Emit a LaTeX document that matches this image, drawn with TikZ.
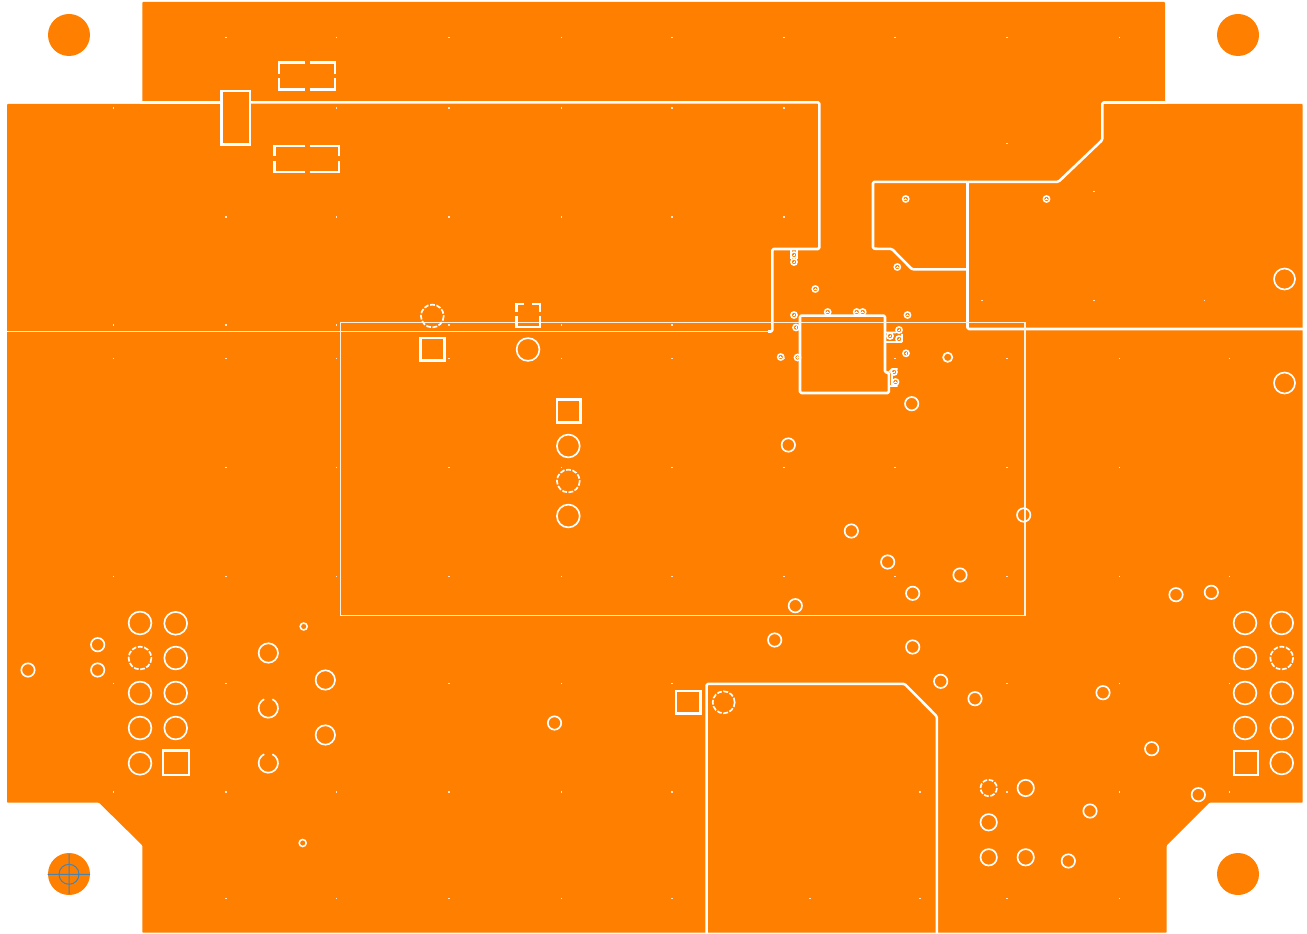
\documentclass[tikz,border=0pt]{standalone}
\definecolor{copper}{HTML}{FF8000}
\definecolor{target}{HTML}{4A82B0}
\tikzset{
  plane/.style={fill=copper,draw=none,rounded corners=0.6pt},
  trace/.style={draw=white,line width=1.9pt,line join=round,rounded corners=1pt},
  hairline/.style={draw=white!88!copper,line width=1.15pt},
  pad/.style={draw=white,line width=1.7pt},
  ring/.style={draw=white,line width=1.25pt},
  brokenring/.style={ring,dash pattern=on 3.6pt off 1.2pt},
  viaring/.style={draw=white,line width=1.15pt},
  viacross/.style={draw=white,line width=0.45pt},
  dot/.style={fill=white!80!copper,draw=none},
  targetline/.style={draw=target,line width=0.75pt}
}
\newcommand{\griddot}[2]{\path[dot] (#1-0.7,#2-0.7) rectangle (#1+0.7,#2+0.7);}
\begin{document}
\begin{tikzpicture}[x=0.75pt,y=-0.75pt]
\useasboundingbox (0,0) rectangle (1307,934);
% copper outline
\path[plane] (142.3,2) -- (1165,2) -- (1165,104) -- (1302.7,104) -- (1302.7,802.7) -- (1209.3,802.7)
  -- (1166.7,845.3) -- (1166.7,932.7) -- (142.3,932.7) -- (142.3,845.3) -- (99,802.7) -- (7,802.7)
  -- (7,104) -- (142.3,104) -- cycle;
% mounting holes
\foreach \cx/\cy in {69/35,1238/35,69/874,1238/874}
  \path[fill=copper] (\cx,\cy) circle[radius=21];
\draw[targetline] (47.5,874.3) -- (90,874.3) (69,854) -- (69,894) (69,874.3) circle[radius=10];
% plane splits
\draw[trace] (140,102.3) -- (221,102.3);
\draw[trace] (250,102.3) -- (819.3,102.3) -- (819.3,249) -- (772.3,249) -- (772.3,331.5) -- (768,331.5);
\draw[hairline] (7,331.7) -- (770,331.7);
\draw[trace] (1167,102.5) -- (1102.3,102.5) -- (1102.3,140) -- (1058.5,181.8) -- (967.5,181.8) -- (967.5,329) -- (1303,329);
\draw[trace] (967.5,181.8) -- (873,181.8) -- (873,248.7) -- (892,249) -- (912,269.3) -- (967.5,269.3);
\draw[trace] (706.7,934) -- (706.7,683.8) -- (904.5,683.8) -- (936.9,716.5) -- (936.9,934);
\draw[trace] (800,315.6) -- (885,315.6) -- (885,372.5) -- (888.8,372.5) -- (888.8,393) -- (800,393) -- cycle;
\draw[hairline] (340.3,322.7) rectangle (1025,615.7);
% short pieces joining vias to the outlines
\draw[viaring] (791,249) -- (791,259) (797,249) -- (797,259)
  (885,332.5) -- (896,332.5) (885,342) -- (902,342) (902,342) -- (902,334)
  (888.8,372) -- (892,369) -- (897.5,369) (888.8,386) -- (897.5,386) (892,372) -- (892,386);
% pads: rectangles
\draw[pad] (221.5,91) rectangle (250,144.5);
\draw[pad] (420.5,338) rectangle (444.5,360.5);
\draw[pad] (556.7,399.5) rectangle (580.5,422.5);
\draw[pad] (162.9,750.5) rectangle (188.7,775);
\draw[pad] (1234,751) rectangle (1257.7,775);
\draw[pad] (676,691) rectangle (700.5,713.5);
% broken pads
\draw[pad] (305,62.5) -- (279,62.5) -- (279,74.5) (279,78.5) -- (279,89.5) -- (305,89.5)
  (309.5,89.5) -- (335,89.5) -- (335,78.5) (335,74.5) -- (335,62.5) -- (309.5,62.5);
\draw[pad] (305,146) -- (274.5,146) -- (274.5,156.5) (274.5,161.5) -- (274.5,172) -- (305,172)
  (309.5,172) -- (339,172) -- (339,161.5) (339,156.5) -- (339,146) -- (309.5,146);
\draw[pad] (524,304) -- (516.5,304) -- (516.5,312) (516.5,316) -- (516.5,327) -- (540,327) -- (540,316)
  (540,312) -- (540,304) -- (532,304);
% large holes
\foreach \cx/\cy in {140/623,175.7/623.3,175.7/658,140/693,175.7/693,140/728,175.7/728,140/763.3,
  1245/623,1281.7/623,1245/658,1245/693,1281.7/693,1245/728,1281.7/728,1281.7/763,
  568.3/446,568.3/516,528/349.5}
  \draw[ring] (\cx,\cy) circle[radius=11.4];
\foreach \cx/\cy in {140/658,1281.7/658,568.3/481,432.3/316}
  \draw[brokenring] (\cx,\cy) circle[radius=11.4];
\draw[brokenring] (723.7,702.3) circle[radius=11];
\foreach \cx/\cy in {1284.5/279,1284.5/383}
  \draw[ring] (\cx,\cy) circle[radius=10.5];
% medium holes
\foreach \cx/\cy in {268.3/653,325.3/680,325.3/735}
  \draw[ring] (\cx,\cy) circle[radius=9.7];
\foreach \cx/\cy in {268.3/708,268.3/763}
  \draw[ring] (\cx,\cy) ++(-65:9.7) arc[start angle=-65,end angle=245,radius=9.7];
\foreach \cx/\cy in {988.7/822.3,1025.7/788,988.7/857.3,1025.7/857.3}
  \draw[ring] (\cx,\cy) circle[radius=8.2];
\draw[brokenring] (988.7,788) circle[radius=8.2];
% small holes
\foreach \cx/\cy in {97.7/644.7,97.7/670,28/670,1176/594.7,1211.3/592.3,1103/692.7,1151.7/748.7,
  1198.3/794.7,1090/811,1068.3/861,975/698.7,851.3/531,887.7/562,960/575,912.7/593.3,795.3/605.7,
  1023.7/515,774.7/640,912.7/647,940.7/681.3,554.5/723,788.3/445,911.7/403.7}
  \draw[ring] (\cx,\cy) circle[radius=6.7];
\draw[ring] (947.7,357.3) circle[radius=4.6];
\foreach \cx/\cy in {303.7/626.5,302.7/843}
  \draw[viaring] (\cx,\cy) circle[radius=3.5];
% tiny vias
\foreach \cx/\cy in {905.7/199,1046.5/199,897.3/267,815.3/289,794/255,794/262,794/315,827.7/312,
  856.7/312,862.7/312,796/327.5,907.5/315,797.5/357.5,780.7/357,906/353.3,899/330,890/336,899/339,
  894/372,895.5/382}
  {\draw[viaring] (\cx,\cy) circle[radius=3.1];
   \draw[viacross] (\cx-1.4,\cy) -- (\cx+1.4,\cy) (\cx,\cy-1.4) -- (\cx,\cy+1.4);}
% grid dots
\foreach \dx in {226,336.5,449,561.5,672,784,895,1007,1119.5} {\griddot{\dx}{37.5}}
\foreach \dx in {113.7,336.5,449,561.5,672,784} {\griddot{\dx}{108}}
\griddot{1007}{143.7}
\foreach \dx in {226,336.5,449,561.5,672,784} {\griddot{\dx}{217}}
\griddot{1094}{191.7}
\foreach \dx in {113.7,226,336.5,449,561.5,672} {\griddot{\dx}{325}}
\foreach \dx in {982,1094,1204.7} {\griddot{\dx}{300.3}}
\foreach \dx in {113.7,226,336.5,449,561.5,672,784,895,1007,1119.5,1229.7} {\griddot{\dx}{358.7}}
\foreach \dx in {226,336.5,449,561.5,672,784,895,1007,1119.5} {\griddot{\dx}{467.7}}
\foreach \dx in {113.7,226,336.5,449,561.5,672,784,895,1007,1119.5,1229.7} {\griddot{\dx}{576.7}}
\foreach \dx in {113.7,226,449,561.5,672,1007,1119.5,1229.7} {\griddot{\dx}{683.3}}
\foreach \dx in {113.7,226,336.5,449,561.5,672,920,1007,1119.5,1229.7} {\griddot{\dx}{792}}
\foreach \dx in {226,336.5,449,561.5,672,810,920,1007,1119.5} {\griddot{\dx}{898.3}}
\end{tikzpicture}
\end{document}
